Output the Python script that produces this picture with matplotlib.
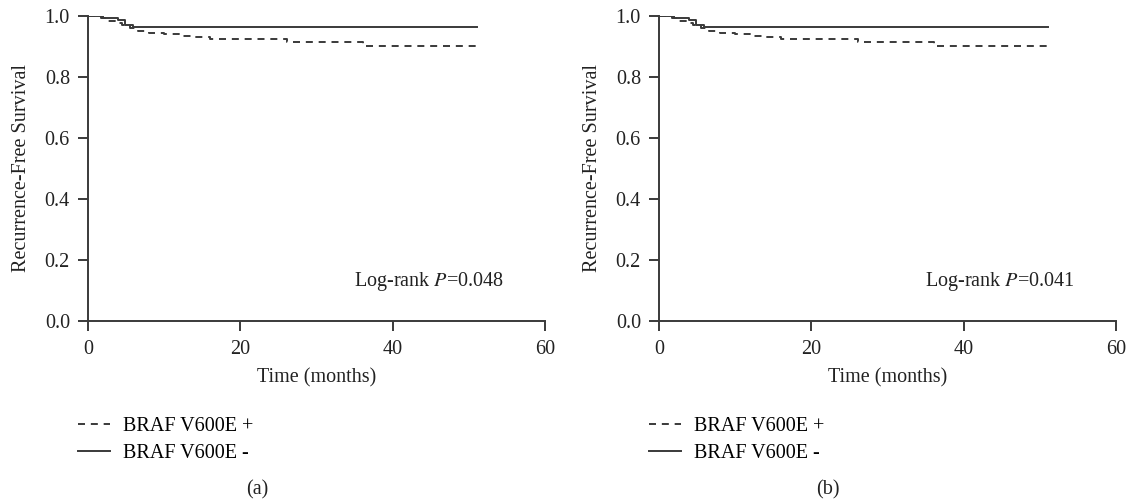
import numpy as np
import matplotlib.pyplot as plt

plt.rcParams['font.family'] = ['Liberation Serif', 'DejaVu Serif']
plt.rcParams['mathtext.fontset'] = 'stix'

# Kaplan-Meier step data
neg_t = [0, 2.0, 4.0, 4.9, 5.9, 51.1]
neg_s = [1.0, 0.995, 0.986, 0.972, 0.964, 0.964]

pos_t = [0, 1.7, 2.5, 3.5, 4.5, 5.5, 6.5, 8, 10, 12, 14, 16, 26.1, 36.1, 51.1]
pos_s = [1.0, 0.993, 0.985, 0.978, 0.970, 0.960, 0.952, 0.945, 0.940,
         0.935, 0.930, 0.924, 0.914, 0.903, 0.903]

panels = ['(a)', '(b)']
pvals = ['0.048', '0.041']
labels = ['BRAF V600E +', 'BRAF V600E -']
xticks = [0, 20, 40, 60]
yticks = [0.0, 0.2, 0.4, 0.6, 0.8, 1.0]

col = '#3a3a3a'
tcol = '#222222'
fs = 14.5
fig = plt.figure(figsize=(11.33, 5.04), dpi=100)
lefts = [88 / 1133, 659 / 1133]

for i, left in enumerate(lefts):
    ax = fig.add_axes([left, 1 - 321 / 504, 457 / 1133, 305 / 504])
    ax.step(pos_t, pos_s, where='post', color=col, lw=1.4, dashes=(3.6, 3), label=labels[0])
    ax.step(neg_t, neg_s, where='post', color=col, lw=1.4, label=labels[1])
    ax.set_xlim(0, 60)
    ax.set_ylim(0, 1.0)
    ax.set_xticks(xticks)
    ax.set_yticks(yticks)
    ax.set_yticklabels([f'{v:.1f}' for v in yticks])
    for s in ['top', 'right']:
        ax.spines[s].set_visible(False)
    for s in ['left', 'bottom']:
        ax.spines[s].set_color(col)
        ax.spines[s].set_linewidth(1.4)
    ax.tick_params(direction='out', length=7, width=1.4, color=col, labelsize=fs,
                   labelcolor=tcol)
    ax.tick_params(axis='y', pad=6)
    ax.tick_params(axis='x', pad=7)
    ax.set_xlabel('Time (months)', fontsize=fs, color=tcol, labelpad=6)
    ax.set_ylabel('Recurrence-Free Survival', fontsize=fs, color=tcol, labelpad=10)
    ax.text(0.581, 0.115, 'Log-rank $P$=' + pvals[i], transform=ax.transAxes,
            fontsize=fs, color=tcol)
    ax.legend(loc='upper left', bbox_to_anchor=(-0.039, -0.289), frameon=False,
              fontsize=fs, handlelength=1.6, handletextpad=0.6, labelspacing=0.4,
              borderaxespad=0)
    ax.text(0.37, -0.552, panels[i], transform=ax.transAxes, fontsize=fs,
            ha='center', va='center', color=tcol)

fig.savefig('out.png', dpi=100)
